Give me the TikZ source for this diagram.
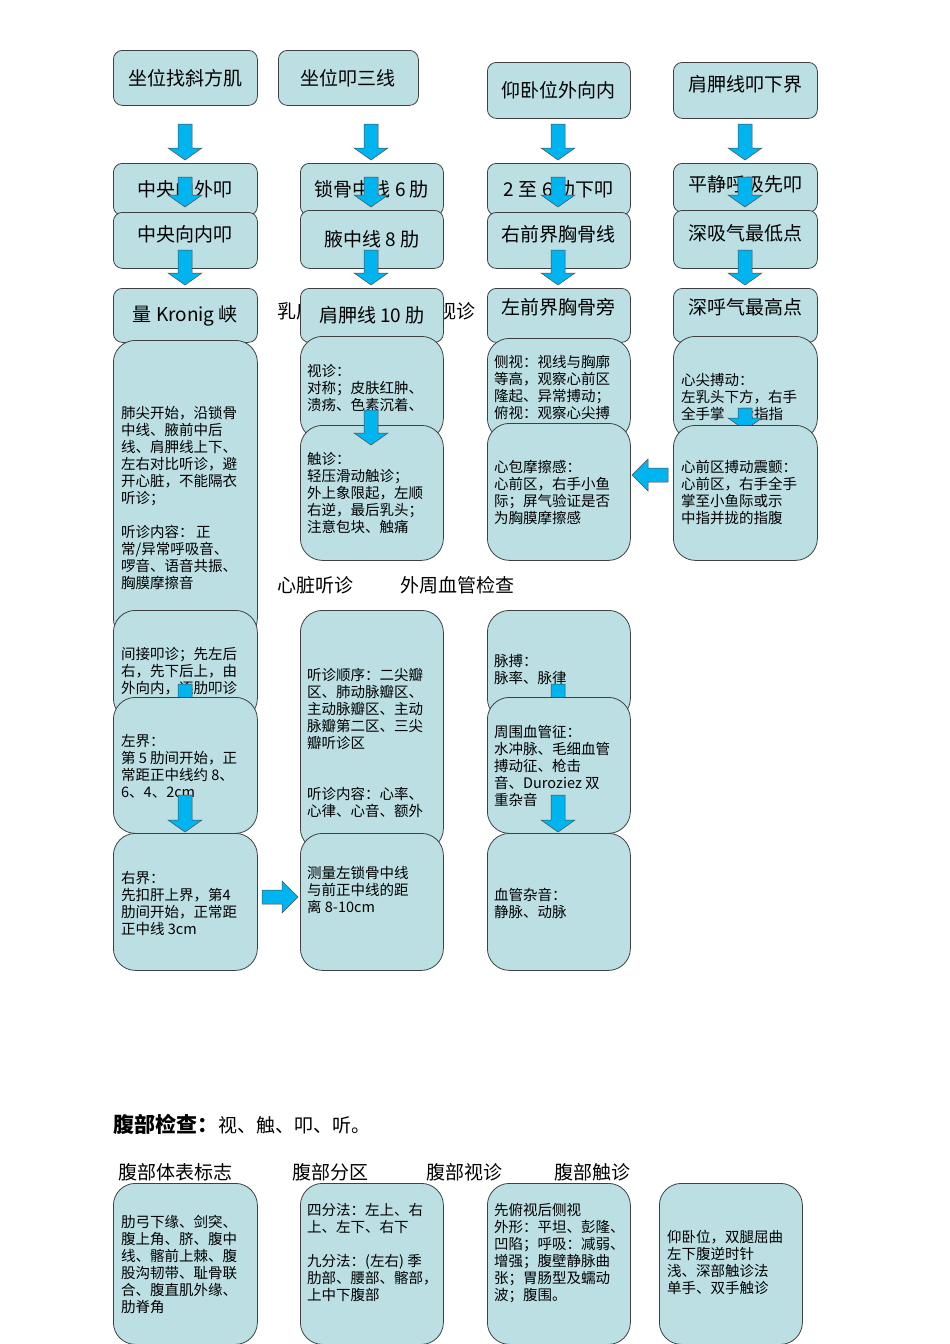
\documentclass[tikz,border=0pt]{standalone}
\usepackage{fontspec}
\setmainfont{Noto Sans CJK SC}
\begin{document}
\begin{tikzpicture}[x=1pt,y=-1pt,
  bx/.style={draw=black!75,line width=0.8pt,fill=boxc,anchor=north west,inner sep=0pt},
  tt/.style={anchor=north west,inner sep=0pt,align=left,font=\fontsize{14.5}{17}\selectfont},
  hd/.style={inner sep=0pt,font=\fontsize{19}{22}\selectfont},
  lb/.style={anchor=west,inner sep=0pt,font=\fontsize{19}{22}\selectfont},
  arr/.style={fill=arrc,draw=black!70,line width=0.5pt}]
\definecolor{boxc}{HTML}{BBDFE3}
\definecolor{arrc}{HTML}{00B4F0}
\useasboundingbox (0,0) rectangle (950,1344);
\newcommand\Bx[6]{\node[bx,rounded corners=#6,minimum width=#4-#2,minimum height=#5-#3] (#1) at (#2,#3) {};}
\newcommand\Dn[3]{\path[arr] (#1-7,#2) -- (#1+7,#2) -- (#1+7,#3-12) -- (#1+17,#3-12) -- (#1,#3) -- (#1-17,#3-12) -- (#1-7,#3-12) -- cycle;}
% top row
\Bx{a1}{113}{50}{257}{105}{9}\node[hd] at (a1) {坐位找斜方肌};
\Bx{b1}{278}{50}{418}{105}{9}\node[hd] at (b1) {坐位叩三线};
\Bx{c1}{487}{62}{630}{118}{9}\node[hd] at (c1) {仰卧位外向内};
\Bx{d1}{673}{62}{817}{118}{9}\node[hd] at ([yshift=6pt]d1) {肩胛线叩下界};
\Dn{185}{124}{160}\Dn{371}{124}{160}\Dn{558}{124}{160}\Dn{745}{124}{160}
% second rows
\Bx{a2}{113}{163}{257}{215}{9}\node[hd] at (a2) {中央向外叩};
\Bx{b2}{300}{163}{443}{215}{9}\node[hd] at (b2) {锁骨中线 6 肋};
\Bx{c2}{487}{163}{630}{215}{9}\node[hd] at (c2) {2 至 6 肋下叩};
\Bx{d2}{673}{163}{817}{212}{9}\node[hd] at ([yshift=4pt]d2) {平静呼吸先叩};
\Bx{a3}{113}{212}{257}{268}{9}\node[hd] at ([yshift=6pt]a3) {中央向内叩};
\Bx{b3}{300}{210}{443}{268}{9}\node[hd] at (b3) {腋中线 8 肋};
\Bx{c3}{487}{212}{630}{268}{9}\node[hd] at ([yshift=6pt]c3) {右前界胸骨线};
\Bx{d3}{673}{210}{817}{268}{9}\node[hd] at ([yshift=6pt]d3) {深吸气最低点};
\Dn{185}{177}{207}\Dn{371}{177}{207}\Dn{558}{177}{207}\Dn{745}{177}{207}
\Dn{185}{250}{285}\Dn{558}{250}{285}\Dn{745}{250}{285}
\node[lb] (l1) at (277,311) {乳房视诊触诊\hspace{8pt}心脏视诊};
\Bx{a4}{113}{288}{257}{342}{9}\node[hd] at (a4) {量 Kronig 峡};
\Bx{b4}{300}{288}{443}{342}{9}\node[hd] at (b4) {肩胛线 10 肋};
\Dn{371}{250}{285}
\Bx{c4}{487}{288}{630}{342}{9}\node[hd] at ([yshift=8pt]c4) {左前界胸骨旁};
\Bx{d4}{673}{288}{817}{342}{9}\node[hd] at ([yshift=8pt]d4) {深呼气最高点};
% big boxes
\Bx{a5}{113}{340}{257}{640}{22}
\node[tt] at (121,406) {肺尖开始，沿锁骨\\中线、腋前中后\\线、肩胛线上下、\\左右对比听诊，避\\开心脏，不能隔衣\\听诊；\\[17pt]听诊内容：\,正\\常/异常呼吸音、\\啰音、语音共振、\\胸膜摩擦音};
\Bx{b5}{300}{336}{443}{440}{22}\node[tt] at (307,364) {视诊：\\对称；皮肤红肿、\\溃疡、色素沉着、};
\Bx{c5}{487}{338}{630}{440}{22}\node[tt] at (494,355) {侧视：视线与胸廓\\等高，观察心前区\\隆起、异常搏动；\\俯视：观察心尖搏};
\Bx{d5}{673}{336}{817}{440}{22}\node[tt] at (681,373) {心尖搏动：\\左乳头下方，右手\\全手掌\hspace{15pt}示指指};
\Dn{745}{408}{430}
\Bx{b6}{300}{425}{443}{560}{22}\node[tt] at (307,452) {触诊：\\轻压滑动触诊；\\外上象限起，左顺\\右逆，最后乳头；\\注意包块、触痛};
\Dn{371}{410}{445}
\Bx{c6}{487}{423}{630}{560}{22}\node[tt] at (494,460) {心包摩擦感：\\心前区，右手小鱼\\际；屏气验证是否\\为胸膜摩擦感};
\Bx{d6}{673}{425}{817}{560}{22}\node[tt] at (681,460) {心前区搏动震颤：\\心前区，右手全手\\掌至小鱼际或示\\中指并拢的指腹};
\path[arr] (668,468) -- (668,482) -- (648,482) -- (648,491) -- (632,475) -- (648,459) -- (648,468) -- cycle;
\node[lb] (l2) at (277,585) {心脏听诊};
\node[lb] (l3) at (400,585) {外周血管检查};
% lower
\Bx{a7}{113}{610}{257}{720}{22}\node[tt] at (121,647) {间接叩诊；先左后\\右，先下后上，由\\外向内，逐肋叩诊};
\Dn{185}{684}{720}
\Bx{a8}{113}{697}{257}{833}{22}\node[tt] at (121,734) {左界：\\第 5 肋间开始，正\\常距正中线约 8、\\6、4、2cm};
\Dn{185}{795}{832}
\Bx{a9}{113}{833}{257}{970}{22}\node[tt] at (121,871) {右界：\\先扣肝上界，第4\\肋间开始，正常距\\正中线 3cm};
\Bx{b7}{300}{610}{443}{850}{22}\node[tt] at (307,668) {听诊顺序：二尖瓣\\区、肺动脉瓣区、\\主动脉瓣区、主动\\脉瓣第二区、三尖\\瓣听诊区\\[34pt]听诊内容：心率、\\心律、心音、额外};
\Bx{b8}{300}{833}{443}{970}{22}\node[tt] at (307,866) {测量左锁骨中线\\与前正中线的距\\离 8-10cm};
\path[arr] (262,890) -- (282,890) -- (282,881) -- (298,897) -- (282,913) -- (282,904) -- (262,904) -- cycle;
\Bx{c7}{487}{610}{630}{720}{22}\node[tt] at (494,654) {脉搏：\\脉率、脉律};
\Dn{558}{684}{720}
\Bx{c8}{487}{697}{630}{833}{22}\node[tt] at (494,725) {周围血管征：\\水冲脉、毛细血管\\搏动征、枪击\\音、Duroziez 双\\重杂音};
\Dn{558}{795}{832}
\Bx{c9}{487}{833}{630}{970}{22}\node[tt] at (494,888) {血管杂音：\\静脉、动脉};
% abdomen
\node[lb] (t1) at (113,1124) {{\bfseries\fontsize{21}{24}\selectfont 腹部检查：}视、触、叩、听。};
\node[lb] (t2) at (118,1172) {腹部体表标志};
\node[lb] (t3) at (292,1172) {腹部分区};
\node[lb] (t4) at (426,1172) {腹部视诊};
\node[lb] (t5) at (554,1172) {腹部触诊};
\Bx{e1}{113}{1183}{257}{1344}{22}\node[tt] at (121,1215) {肋弓下缘、剑突、\\腹上角、脐、腹中\\线、髂前上棘、腹\\股沟韧带、耻骨联\\合、腹直肌外缘、\\肋脊角};
\Bx{e2}{300}{1183}{443}{1344}{22}\node[tt] at (307,1203) {四分法：左上、右\\上、左下、右下\\[17pt]九分法：(左右) 季\\肋部、腰部、髂部，\\上中下腹部};
\Bx{e3}{487}{1183}{630}{1344}{22}\node[tt] at (494,1203) {先俯视后侧视\\外形：平坦、彭隆、\\凹陷；呼吸：减弱、\\增强；腹壁静脉曲\\张；胃肠型及蠕动\\波；腹围。};
\Bx{e4}{659}{1183}{802}{1344}{22}\node[tt] at (667,1230) {仰卧位，双腿屈曲\\左下腹逆时针\\浅、深部触诊法\\单手、双手触诊};
\end{tikzpicture}
\end{document}
